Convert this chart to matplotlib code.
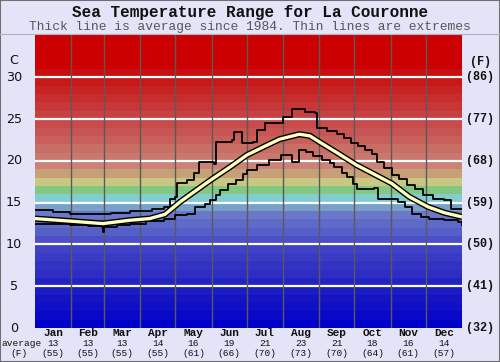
import matplotlib
matplotlib.use("Agg")
import matplotlib.pyplot as plt
from matplotlib.patches import Rectangle
from matplotlib.lines import Line2D
import numpy as np

# ---------------- data ----------------
months = ["Jan", "Feb", "Mar", "Apr", "May", "Jun", "Jul", "Aug", "Sep", "Oct", "Nov", "Dec"]
month_days = [31, 28, 31, 30, 31, 30, 31, 31, 30, 31, 30, 31]
avg_c = [13, 13, 13, 14, 16, 19, 21, 23, 21, 18, 16, 14]
avg_f = [55, 55, 55, 55, 61, 66, 70, 73, 70, 64, 61, 57]

c_ticks = [0, 5, 10, 15, 20, 25, 30]
f_ticks = ["(32)", "(41)", "(50)", "(59)", "(68)", "(77)", "(86)"]

avg_days = [0, 30, 58, 81, 98, 111, 124, 137, 150, 167, 181, 197, 209, 226, 235, 244,
            258, 275, 286, 305, 320, 336, 350, 365]
avg_temp = [13.1, 12.8, 12.5, 12.9, 13.1, 13.6, 15.1, 16.4, 17.7, 19.3, 20.7, 21.8, 22.6,
            23.2, 23.0, 22.2, 21.0, 19.5, 18.7, 17.3, 15.7, 14.5, 13.8, 13.3]

max_days = [0, 15, 30, 45, 65, 81, 100, 110, 115, 120, 121, 130, 136, 140, 153, 155, 168,
            170, 177, 186, 190, 197, 210, 212, 220, 231, 239, 241, 250, 258, 264, 270, 276,
            282, 288, 292, 298, 305, 311, 318, 325, 332, 340, 350, 356, 365]
max_temp = [14.1, 13.9, 13.7, 13.6, 13.8, 14.0, 14.3, 14.5, 15.5, 15.7, 17.4, 17.7, 18.6,
            19.9, 19.6, 22.3, 22.5, 23.5, 22.1, 22.3, 23.7, 24.5, 24.6, 25.3, 26.2, 25.9,
            25.7, 23.9, 23.6, 23.2, 22.7, 22.2, 21.8, 21.3, 20.8, 19.9, 19.2, 18.3, 17.8,
            17.1, 16.6, 15.9, 15.5, 15.3, 14.3, 14.3]

min_days = [0, 15, 30, 45, 57, 58, 59, 70, 81, 95, 110, 120, 130, 137, 145, 150, 155, 158,
            165, 172, 178, 181, 190, 200, 210, 220, 226, 232, 238, 245, 252, 256, 262, 267,
            272, 275, 290, 293, 310, 316, 322, 330, 337, 350, 362, 365]
min_temp = [12.5, 12.4, 12.3, 12.2, 12.1, 11.5, 12.1, 12.3, 12.5, 12.8, 13.1, 13.5, 13.7,
            14.5, 14.9, 15.3, 15.9, 16.5, 17.2, 17.7, 18.4, 18.9, 19.5, 20.1, 20.7, 19.9,
            21.3, 21.1, 20.6, 20.1, 19.7, 19.3, 18.6, 18.1, 17.3, 16.6, 16.8, 15.5, 15.1,
            14.5, 13.7, 13.3, 13.1, 12.9, 12.7, 12.3]

# ---------------- style ----------------
band_colors = [
    (0, 0, 200), (8, 8, 200), (15, 15, 200), (20, 20, 195), (28, 28, 195),
    (35, 35, 195), (45, 45, 195), (50, 50, 195), (58, 58, 195), (65, 65, 200),
    (75, 80, 200), (85, 95, 200), (95, 105, 200), (105, 120, 200), (120, 160, 200),
    (130, 205, 205), (130, 200, 130), (200, 200, 130), (200, 160, 120), (205, 130, 120),
    (200, 120, 110), (200, 110, 100), (200, 95, 90), (200, 85, 85), (200, 75, 75),
    (200, 65, 65), (200, 55, 55), (200, 45, 45), (200, 35, 35), (200, 25, 25),
    (200, 15, 15), (204, 0, 0), (204, 0, 0), (204, 0, 0), (204, 0, 0), (204, 0, 0),
]
BG = "#e4e4f8"
mono = ["Liberation Mono", "DejaVu Sans Mono"]

W, H = 500, 362
fig = plt.figure(figsize=(W / 100, H / 100), dpi=100, facecolor=BG)
ax = fig.add_axes([35 / W, 1 - 328 / H, (462 - 35) / W, (328 - 34) / H])
ymax = 35.2
ax.set_xlim(0, 365)
ax.set_ylim(0, ymax)
ax.set_axis_off()

for i, col in enumerate(band_colors):
    ax.axhspan(i, min(i + 1, ymax), color=np.array(col) / 255, lw=0, zorder=0)

for t in c_ticks[1:]:
    ax.axhline(t, color="white", lw=1.6, zorder=1)

bounds = np.cumsum(month_days)[:-1]
for b in bounds:
    ax.axvline(b, color="#5a5a5a", lw=1.0, zorder=1)

ax.plot(max_days, max_temp, color="black", lw=1.3, drawstyle="steps-post", zorder=3)
ax.plot(min_days, min_temp, color="black", lw=1.3, drawstyle="steps-post", zorder=3)
ax.plot(avg_days, avg_temp, color="black", lw=4.4, zorder=4, solid_capstyle="butt")
ax.plot(avg_days, avg_temp, color="#ffffc0", lw=2.4, zorder=5, solid_capstyle="butt")

# ---------------- text ----------------
fig.text(250 / W, 1 - 12 / H, "Sea Temperature Range for La Couronne", ha="center",
         va="center", family=mono, fontweight="bold", fontsize=11.5, color="#111111")
fig.text(250 / W, 1 - 27 / H, "Thick line is average since 1984. Thin lines are extremes",
         ha="center", va="center", family=mono, fontsize=9.3, color="#555555")

# separator line under header
fig.add_artist(Line2D([0, 1], [1 - 33.5 / H, 1 - 33.5 / H], color="#b0b0c0", lw=0.8))

def ypix(t):
    return 1 - (328 - t * (328 - 34) / ymax) / H

for t in c_ticks:
    fig.text(14 / W, ypix(t), str(t), ha="center", va="center", fontsize=9.2,
             family="DejaVu Sans", color="#111111")
for t, lab in zip(c_ticks, f_ticks):
    fig.text(466 / W, ypix(t), lab, ha="left", va="center", fontsize=8.5,
             family=mono, fontweight="bold", color="#111111")
fig.text(14 / W, 1 - 60 / H, "C", ha="center", va="center", fontsize=9.2,
         family="DejaVu Sans", color="#111111")
fig.text(481 / W, 1 - 62 / H, "(F)", ha="center", va="center", fontsize=8.5,
         family=mono, fontweight="bold", color="#111111")

starts = np.concatenate([[0], np.cumsum(month_days)[:-1]])
for m, s, d, c, f in zip(months, starts, month_days, avg_c, avg_f):
    xf = (35 + (s + d / 2) * (427 / 365)) / W
    fig.text(xf, 1 - 333 / H, m, ha="center", va="center", family=mono,
             fontweight="bold", fontsize=8.0, color="#111111")
    fig.text(xf, 1 - 343.5 / H, str(c), ha="center", va="center", family=mono,
             fontsize=6.8, color="#111111")
    fig.text(xf, 1 - 353 / H, f"({f})", ha="center", va="center", family=mono,
             fontsize=6.8, color="#111111")
fig.text(21 / W, 1 - 343.5 / H, "average", ha="center", va="center", family=mono,
         fontsize=6.8, color="#111111")
fig.text(19 / W, 1 - 353 / H, "(F)", ha="center", va="center", family=mono,
         fontsize=6.8, color="#111111")

# figure border
fig.add_artist(Rectangle((0, 0), 1, 1, transform=fig.transFigure, fill=False,
                         edgecolor="#707070", lw=1.5))

fig.savefig("out.png", dpi=100, facecolor=BG)
